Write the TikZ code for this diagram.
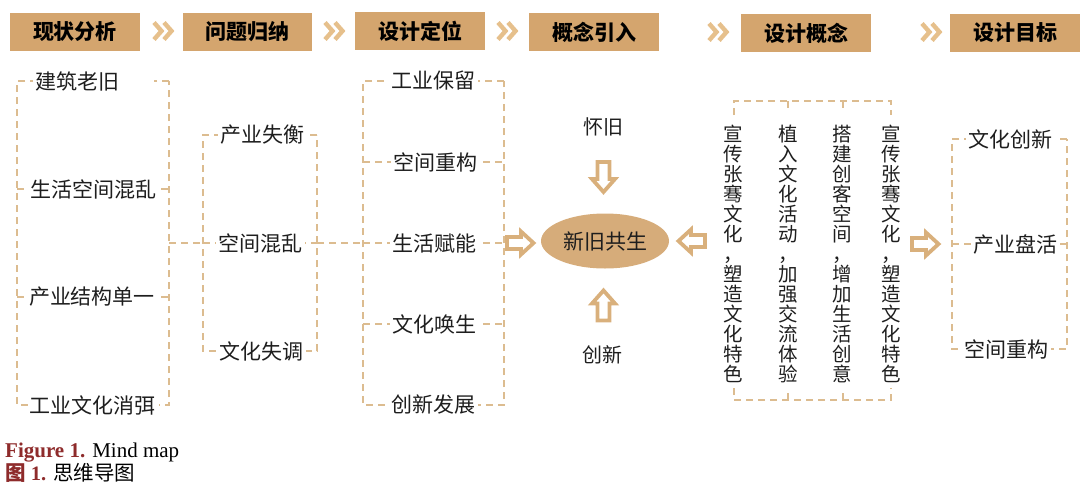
\documentclass[tikz,border=0pt]{standalone}
\usepackage{fontspec}
\setmainfont{Liberation Serif}
\newfontfamily\cjk{Noto Sans CJK SC}
\usetikzlibrary{shapes.geometric}
\definecolor{hdr}{HTML}{D4A56E}
\definecolor{chev}{HTML}{E6C08C}
\definecolor{dsh}{HTML}{DCBC90}
\definecolor{arw}{HTML}{D9B07C}
\definecolor{ell}{HTML}{D6AC7A}
\definecolor{txt}{HTML}{1E1E1E}
\definecolor{capred}{HTML}{8E2B2B}
\begin{document}
\begin{tikzpicture}[x=1pt,y=-1pt,
  hdrbox/.style={fill=hdr, draw=none, inner sep=0, minimum width=130pt, minimum height=38pt,
    font=\cjk\bfseries\fontsize{21}{24}\selectfont, text=black},
  item/.style={fill=white, inner xsep=2.5pt, inner ysep=1pt, font=\cjk\fontsize{21}{24}\selectfont, text=txt},
  bline/.style={draw=dsh, line width=2.4pt, dash pattern=on 7pt off 5pt},
  chevline/.style={draw=chev, line width=4.4pt, miter limit=10},
  harrow/.style={draw=arw, line width=3.8pt, fill=white, line join=miter},
  vtext/.style={align=center, inner sep=0, font=\cjk\fontsize{19.5}{20}\selectfont, text=txt},
  dchev/.pic={\draw[chevline] (-10,-8.5) -- (-2.5,0) -- (-10,8.5); \draw[chevline] (0,-8.5) -- (7.5,0) -- (0,8.5);},
  rarw/.pic={\draw[harrow] (-14,-6) -- (0,-6) -- (0,-11.5) -- (12.5,0) -- (0,11.5) -- (0,6) -- (-14,6) -- cycle;},
  varw/.pic={\draw[harrow] (-15.5,-6) -- (1.5,-6) -- (1.5,-11.5) -- (14.5,0) -- (1.5,11.5) -- (1.5,6) -- (-15.5,6) -- cycle;},
]
\useasboundingbox (0,0) rectangle (1080,493);

% header row
\node[hdrbox] (h1) at (75,32) {现状分析};
\node[hdrbox, minimum width=129pt] (h2) at (247.5,32) {问题归纳};
\node[hdrbox] (h3) at (420,31) {设计定位};
\node[hdrbox] (h4) at (594,32) {概念引入};
\node[hdrbox, minimum height=37.5pt] (h5) at (806,33) {设计概念};
\node[hdrbox, minimum height=37.5pt] (h6) at (1015,33) {设计目标};
\pic at (164,31) {dchev};
\pic at (335,31) {dchev};
\pic at (508,31) {dchev};
\pic at (719,32) {dchev};
\pic at (932,32) {dchev};

% column 1
\draw[bline] (169,81) -- (17,81) -- (17,405) -- (169,405) -- cycle;
\draw[bline] (17,189) -- (169,189);
\draw[bline] (17,297) -- (169,297);
\node[item, anchor=west, text width=116pt, align=left] (a1) at (33,81) {建筑老旧};
\node[item] (a2) at (93.5,189) {生活空间混乱};
\node[item] (a3) at (92,297) {产业结构单一};
\node[item] (a4) at (93,405) {工业文化消弭};

% column 2
\coordinate (l1) at (169,243);
\coordinate (l2) at (203,243);
\draw[bline] (l1) -- (l2);
\draw[bline] (317,135) -- (203,135) -- (203,351) -- (317,351) -- cycle;
\draw[bline] (203,243) -- (317,243);
\node[item] (b1) at (262,135) {产业失衡};
\node[item] (b2) at (260,243) {空间混乱};
\node[item] (b3) at (261.5,351) {文化失调};

% column 3
\coordinate (m1) at (317,243);
\coordinate (m2) at (363,243);
\draw[bline] (m1) -- (m2);
\draw[bline] (504,81) -- (363,81) -- (363,405) -- (504,405) -- cycle;
\draw[bline] (363,162) -- (504,162);
\draw[bline] (363,243) -- (504,243);
\draw[bline] (363,324) -- (504,324);
\node[item] (c1) at (433.5,81) {工业保留};
\node[item] (c2) at (435.5,162) {空间重构};
\node[item] (c3) at (434,243) {生活赋能};
\node[item] (c4) at (434,324) {文化唤生};
\node[item] (c5) at (433,405) {创新发展};

% concept introduction
\node[ellipse, fill=ell, inner sep=0, minimum width=128pt, minimum height=55pt,
  font=\cjk\fontsize{21}{24}\selectfont, text=txt] (core) at (605,241) {新旧共生};
\node[font=\cjk\fontsize{20}{24}\selectfont, text=txt] (nost) at (603,127) {怀旧};
\node[font=\cjk\fontsize{20}{24}\selectfont, text=txt] (innov) at (602,355) {创新};
\pic at (521,243) {rarw};
\pic at (691,241) [rotate=180] {rarw};
\pic at (603.5,177.5) [rotate=-90] {varw};
\pic at (603.5,305) [rotate=90] {varw};

% design concept
\draw[bline] (734,115) -- (734,101) -- (891,101) -- (891,115);
\draw[bline] (788,101) -- (788,113);
\draw[bline] (843,101) -- (843,113);
\draw[bline] (734,388) -- (734,400) -- (891,400) -- (891,388);
\draw[bline] (788,400) -- (788,388);
\draw[bline] (843,400) -- (843,388);
\node[vtext] (d1) at (733,254) {宣\\传\\张\\骞\\文\\化\\，\\塑\\造\\文\\化\\特\\色};
\node[vtext] (d2) at (788,254) {植\\入\\文\\化\\活\\动\\，\\加\\强\\交\\流\\体\\验};
\node[vtext] (d3) at (842,254) {搭\\建\\创\\客\\空\\间\\，\\增\\加\\生\\活\\创\\意};
\node[vtext] (d4) at (891,254) {宣\\传\\张\\骞\\文\\化\\，\\塑\\造\\文\\化\\特\\色};

% design goals
\pic at (926,244) {rarw};
\draw[bline] (1067,139) -- (952,139) -- (952,349) -- (1067,349) -- cycle;
\draw[bline] (952,244) -- (1067,244);
\node[item] (e1) at (1010.5,139) {文化创新};
\node[item] (e2) at (1015,244) {产业盘活};
\node[item] (e3) at (1006.5,349) {空间重构};

% caption
\node[anchor=base west, inner sep=0, font=\fontsize{21}{24}\selectfont] (cap1) at (5,457)
  {\textcolor{capred}{\textbf{Figure 1.}} Mind map};
\node[anchor=base west, inner sep=0, font=\fontsize{20.5}{24}\selectfont] (cap2) at (5,480)
  {\textcolor{capred}{{\cjk\bfseries 图} \textbf{1.}} {\cjk 思维导图}};
\end{tikzpicture}
\end{document}
